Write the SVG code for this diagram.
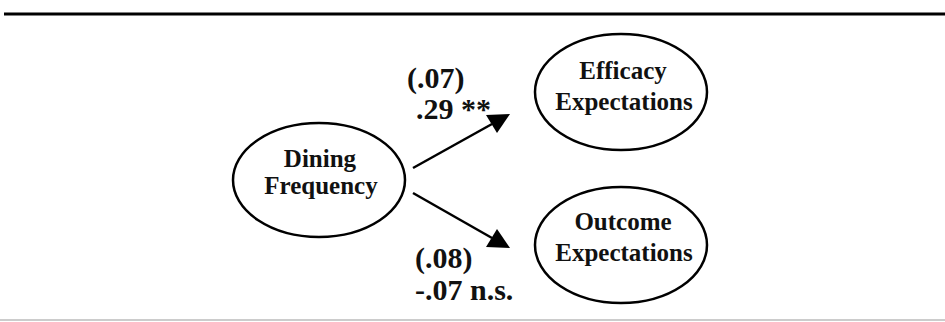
<svg xmlns="http://www.w3.org/2000/svg" width="945" height="322" viewBox="0 0 945 322">
<defs>
<style>
.node{fill:#fff;stroke:#000;stroke-width:2.5}
.t{font-family:"Liberation Serif","Times New Roman",serif;font-weight:bold;font-size:25px;fill:#111;text-anchor:middle}
.lab{font-family:"Liberation Serif","Times New Roman",serif;font-weight:bold;font-size:30px;fill:#111}
.edge{stroke:#000;stroke-width:2.5;fill:none}
</style>
</defs>
<rect width="945" height="322" fill="#fff"/>
<line x1="4" y1="14" x2="945" y2="14" stroke="#000" stroke-width="3"/>
<line x1="0" y1="320" x2="945" y2="320" stroke="#999" stroke-width="1"/>
<g id="connectors">
<line class="edge" x1="413" y1="168" x2="492" y2="124"/>
<path d="M510,114 L486,115 L497,133 Z" fill="#000"/>
<line class="edge" x1="413" y1="193" x2="492" y2="238"/>
<path d="M510,248 L497,229 L486,247 Z" fill="#000"/>
<text class="lab" x="407" y="88">(.07)</text>
<text class="lab" x="416" y="119">.29 **</text>
<text class="lab" x="415" y="268">(.08)</text>
<text class="lab" x="415" y="300">-.07 n.s.</text>
</g>
<g id="dining">
<ellipse class="node" cx="319" cy="180" rx="86" ry="57"/>
<text class="t" x="320" y="167">Dining</text>
<text class="t" x="321" y="194">Frequency</text>
</g>
<g id="efficacy">
<ellipse class="node" cx="621" cy="92" rx="86" ry="58"/>
<text class="t" x="623" y="79">Efficacy</text>
<text class="t" x="624" y="110">Expectations</text>
</g>
<g id="outcome">
<ellipse class="node" cx="621" cy="245" rx="86" ry="58"/>
<text class="t" x="623" y="230">Outcome</text>
<text class="t" x="624" y="261">Expectations</text>
</g>
</svg>
